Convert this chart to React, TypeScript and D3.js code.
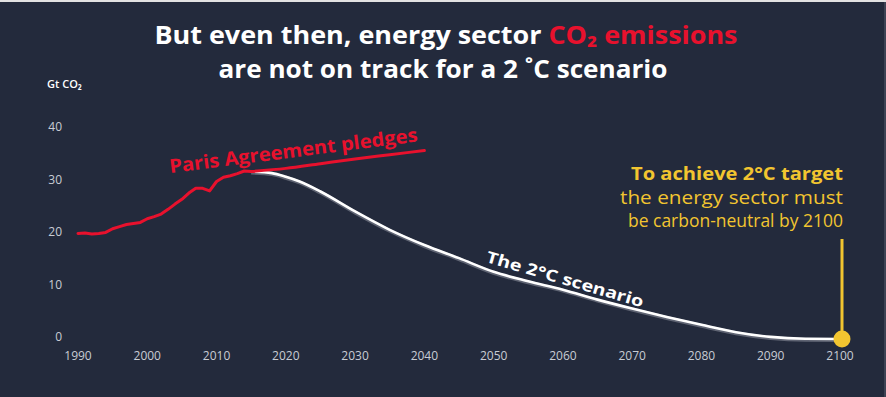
import React from 'react';
import * as d3 from 'd3';

// historical emissions, Gt CO2
const histYears = [1990, 1991, 1992, 1993, 1994, 1995, 1996, 1997, 1998, 1999, 2000, 2001, 2002, 2003, 2004, 2005, 2006, 2007, 2008, 2009, 2010, 2011, 2012, 2013, 2014, 2015];
const histValues = [20.1, 20.2, 20.0, 20.1, 20.3, 21.0, 21.4, 21.8, 22.0, 22.2, 22.9, 23.3, 23.8, 24.7, 25.7, 26.6, 27.8, 28.7, 28.7, 28.2, 30.0, 30.8, 31.1, 31.5, 32.0, 31.9];

// Paris Agreement pledges
const pledgeYears = [2015, 2020, 2025, 2030, 2035, 2040];
const pledgeValues = [31.9, 32.5, 33.4, 34.3, 35.1, 35.9];

// 2 degree scenario
const scenarioYears = [2015, 2018, 2020, 2022, 2025, 2030, 2035, 2040, 2045, 2050, 2055, 2060, 2065, 2070, 2075, 2080, 2085, 2090, 2095, 2100];
const scenarioValues = [31.9, 31.6, 30.9, 30.0, 28.1, 24.3, 20.8, 17.9, 15.4, 12.8, 11.0, 9.4, 7.5, 5.8, 4.2, 2.7, 1.3, 0.4, 0.05, 0];

const xTicks = [1990, 2000, 2010, 2020, 2030, 2040, 2050, 2060, 2070, 2080, 2090, 2100];
const yTicks = [0, 10, 20, 30, 40];

const W = 886;
const H = 397;
const BG = '#232a3c';
const RED = '#e8112d';
const YELLOW = '#f2c530';
const FONT = '"Open Sans", "DejaVu Sans", sans-serif';

export default function App() {
  const x = d3.scaleLinear().domain([1990, 2100]).range([78, 840]);
  const y = d3.scaleLinear().domain([0, 40]).range([339, 129]);

  const line = d3
    .line<[number, number]>()
    .x((d) => x(d[0]))
    .y((d) => y(d[1]))
    .curve(d3.curveMonotoneX);

  const hist = histYears.map((yr, i) => [yr, histValues[i]] as [number, number]);
  const pledge = pledgeYears.map((yr, i) => [yr, pledgeValues[i]] as [number, number]);
  const scen = scenarioYears.map((yr, i) => [yr, scenarioValues[i]] as [number, number]);

  const histPath = d3.line<[number, number]>().x((d) => x(d[0])).y((d) => y(d[1]))(hist);
  const pledgePath = line(pledge);
  const scenPath = line(scen);

  const dotX = x(2100) + 2;
  const dotY = y(0);

  return (
    <svg width={W} height={H} style={{ position: 'absolute', left: 0, top: 0, display: 'block' }}>
      <rect width={W} height={H} fill={BG} />
      <rect width={W} height={2} fill="#e2e2e2" />
      <rect x={W - 2} y={2} width={2} height={H} fill="#3d4354" />

      {/* title */}
      <text x={446} y={44} textAnchor="middle" fontFamily={FONT} fontWeight={700} fontSize={25} fill="#fff" textLength={583} lengthAdjust="spacingAndGlyphs">
        But even then, energy sector <tspan fill={RED}>CO₂ emissions</tspan>
      </text>
      <text x={443} y={78} textAnchor="middle" fontFamily={FONT} fontWeight={700} fontSize={25} fill="#fff" textLength={449} lengthAdjust="spacingAndGlyphs">
        are not on track for a 2 ˚C scenario
      </text>

      {/* y axis */}
      <text x={47} y={88} fontFamily={FONT} fontWeight={600} fontSize={11} fill="#fff">Gt CO₂</text>
      {yTicks.map((t) => (
        <text key={t} x={62} y={y(t) - 2} dy="0.35em" textAnchor="end" fontFamily={FONT} fontSize={12} fill="#c8ccd4">
          {t}
        </text>
      ))}
      {xTicks.map((t) => (
        <text key={t} x={x(t)} y={360} textAnchor="middle" fontFamily={FONT} fontSize={12} fill="#c8ccd4">
          {t}
        </text>
      ))}

      {/* scenario */}
      <path d={scenPath || ''} fill="none" stroke="#5f6473" strokeWidth={4} transform="translate(0,1)" />
      <path d={scenPath || ''} fill="none" stroke="#fff" strokeWidth={2.6} strokeLinecap="round" />

      {/* pledges + history */}
      <path d={pledgePath || ''} fill="none" stroke={RED} strokeWidth={3} strokeLinecap="round" />
      <path d={histPath || ''} fill="none" stroke={RED} strokeWidth={3} strokeLinejoin="round" strokeLinecap="round" />

      <text
        transform={`translate(${x(2003.3)},${y(31.6)}) rotate(-7.3)`}
        fontFamily={FONT}
        fontWeight={700}
        fontSize={19}
        fill={RED}
        textLength={250}
        lengthAdjust="spacingAndGlyphs"
      >
        Paris Agreement pledges
      </text>

      <text
        transform={`translate(${x(2048.8)},${y(14.7)}) rotate(16.2)`}
        fontFamily={FONT}
        fontWeight={700}
        fontSize={16}
        fill="#fff"
        textLength={163}
        lengthAdjust="spacingAndGlyphs"
      >
        The 2°C scenario
      </text>

      {/* target annotation */}
      <line x1={dotX} x2={dotX} y1={239} y2={dotY} stroke={YELLOW} strokeWidth={3} />
      <circle cx={dotX} cy={dotY} r={8.5} fill={YELLOW} />
      <text x={843} y={180} textAnchor="end" fontFamily={FONT} fontWeight={700} fontSize={18} fill={YELLOW} textLength={212} lengthAdjust="spacingAndGlyphs">
        To achieve 2°C target
      </text>
      <text x={843} y={204} textAnchor="end" fontFamily={FONT} fontSize={18} fill={YELLOW} textLength={223} lengthAdjust="spacingAndGlyphs">
        the energy sector must
      </text>
      <text x={843} y={227} textAnchor="end" fontFamily={FONT} fontSize={18} fill={YELLOW} textLength={215} lengthAdjust="spacingAndGlyphs">
        be carbon-neutral by 2100
      </text>
    </svg>
  );
}
